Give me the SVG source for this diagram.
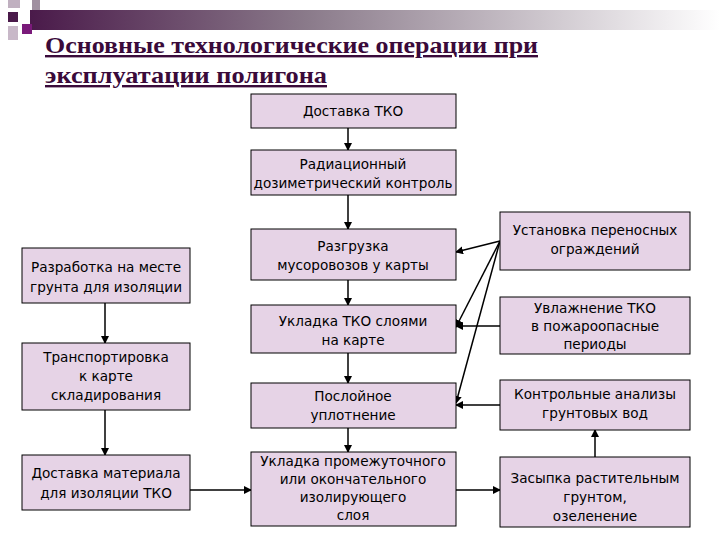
<svg xmlns="http://www.w3.org/2000/svg" width="720" height="540" viewBox="0 0 720 540">
<defs>
<linearGradient id="g" x1="0" x2="1" y1="0" y2="0"><stop offset="0" stop-color="#4a1a4a"/><stop offset="0.4" stop-color="#8a7a8a"/><stop offset="1" stop-color="#ffffff"/></linearGradient>
<marker id="a" markerWidth="8" markerHeight="8" refX="7" refY="4" orient="auto" markerUnits="userSpaceOnUse"><path d="M0,0 L8,4 L0,8 z" fill="#000"/></marker>
<style>
.b{fill:#e6d3e6;stroke:#000;stroke-width:1}
.t{font-family:"DejaVu Sans",sans-serif;font-size:13.6px;fill:#000;text-anchor:middle}
.c{stroke:#000;stroke-width:1.5;fill:none;marker-end:url(#a)}
</style>
</defs>
<rect width="720" height="540" fill="#fff"/>
<rect x="30" y="10" width="690" height="20" fill="url(#g)"/>
<rect x="8" y="0" width="12" height="8" fill="#c0b0c0"/>
<rect x="8" y="12" width="10" height="10" fill="#4a1a4a"/>
<rect x="22" y="24" width="10" height="10" fill="#7a1a7a"/>
<rect x="8" y="26" width="10" height="14" fill="#c8b8c8"/>
<rect x="32" y="0" width="8" height="10" fill="#a090a0"/>
<g font-family="Liberation Serif,serif" font-weight="bold" font-size="24" fill="#3a0a3a" text-decoration="underline">
<text x="45" y="53" textLength="493" lengthAdjust="spacingAndGlyphs">Основные технологические операции при</text>
<text x="45" y="83" textLength="282" lengthAdjust="spacingAndGlyphs">эксплуатации полигона</text>
</g>
<g id="connectors">
<line class="c" x1="348" y1="128" x2="348" y2="150"/>
<line class="c" x1="348" y1="195" x2="348" y2="229"/>
<line class="c" x1="348" y1="280" x2="348" y2="305"/>
<line class="c" x1="348" y1="353" x2="348" y2="383"/>
<line class="c" x1="348" y1="428" x2="348" y2="452"/>
<line class="c" x1="105" y1="303" x2="105" y2="343"/>
<line class="c" x1="105" y1="410" x2="105" y2="455"/>
<line class="c" x1="190" y1="490" x2="251" y2="490"/>
<line class="c" x1="456" y1="490" x2="500" y2="490"/>
<line class="c" x1="595" y1="457" x2="595" y2="430"/>
<line class="c" x1="500" y1="241" x2="456" y2="252"/>
<line class="c" x1="500" y1="241" x2="456" y2="327"/>
<line class="c" x1="500" y1="241" x2="456" y2="403"/>
<line class="c" x1="500" y1="326" x2="456" y2="326"/>
<line class="c" x1="500" y1="405" x2="456" y2="405"/>
</g>
<g id="n1"><rect class="b" x="251" y="94" width="205" height="34"/><text class="t" x="353" y="116">Доставка ТКО</text></g>
<g id="n2"><rect class="b" x="251" y="150" width="205" height="45"/><text class="t" x="353" y="169">Радиационный</text><text class="t" x="353" y="188">дозиметрический контроль</text></g>
<g id="n3"><rect class="b" x="251" y="229" width="205" height="51"/><text class="t" x="353" y="251">Разгрузка</text><text class="t" x="353" y="270">мусоровозов у карты</text></g>
<g id="n4"><rect class="b" x="251" y="305" width="205" height="48"/><text class="t" x="353" y="326">Укладка ТКО слоями</text><text class="t" x="353" y="345">на карте</text></g>
<g id="n5"><rect class="b" x="251" y="383" width="205" height="45"/><text class="t" x="353" y="401">Послойное</text><text class="t" x="353" y="420">уплотнение</text></g>
<g id="n6"><rect class="b" x="251" y="452" width="205" height="74"/><text class="t" x="353" y="466">Укладка промежуточного</text><text class="t" x="353" y="484">или окончательного</text><text class="t" x="353" y="502">изолирующего</text><text class="t" x="353" y="520">слоя</text></g>
<g id="r1"><rect class="b" x="500" y="212" width="190" height="58"/><text class="t" x="595" y="235">Установка переносных</text><text class="t" x="595" y="254">ограждений</text></g>
<g id="r2"><rect class="b" x="500" y="297" width="190" height="57"/><text class="t" x="595" y="313">Увлажнение ТКО</text><text class="t" x="595" y="331">в пожароопасные</text><text class="t" x="595" y="349">периоды</text></g>
<g id="r3"><rect class="b" x="500" y="380" width="190" height="50"/><text class="t" x="595" y="399">Контрольные анализы</text><text class="t" x="595" y="418">грунтовых вод</text></g>
<g id="r4"><rect class="b" x="500" y="457" width="190" height="70"/><text class="t" x="595" y="483">Засыпка растительным</text><text class="t" x="595" y="502">грунтом,</text><text class="t" x="595" y="521">озеленение</text></g>
<g id="l1"><rect class="b" x="22" y="248" width="168" height="55"/><text class="t" x="106" y="272">Разработка на месте</text><text class="t" x="106" y="292">грунта для изоляции</text></g>
<g id="l2"><rect class="b" x="22" y="343" width="168" height="67"/><text class="t" x="106" y="362">Транспортировка</text><text class="t" x="106" y="381">к карте</text><text class="t" x="106" y="400">складирования</text></g>
<g id="l3"><rect class="b" x="22" y="455" width="168" height="55"/><text class="t" x="106" y="478">Доставка материала</text><text class="t" x="106" y="498">для изоляции ТКО</text></g>
</svg>
